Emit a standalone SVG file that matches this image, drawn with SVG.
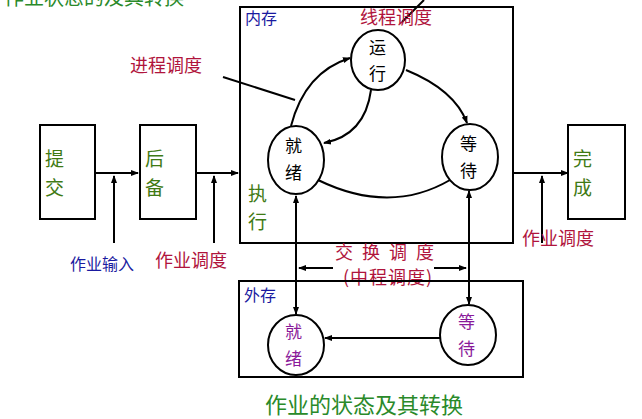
<svg xmlns="http://www.w3.org/2000/svg" width="642" height="419" viewBox="0 0 642 419">
<style>
text{font-family:"Noto Sans CJK SC","Liberation Sans",sans-serif}
.box{fill:none;stroke:#000;stroke-width:2}
.el{fill:#fff;stroke:#000;stroke-width:2}
.ln{fill:none;stroke:#000;stroke-width:2}
.g{fill:#3f7a14;font-size:19px}
.r{fill:#b0143c;font-size:18px}
.b{fill:#1a1aa0;font-size:16px}
.k{fill:#000;font-size:17px}
.p{fill:#8a1a9a;font-size:17px}
</style>
<defs><marker id="a" markerWidth="8" markerHeight="8" refX="7" refY="4" orient="auto" markerUnits="userSpaceOnUse"><path d="M0,1 L8,4 L0,7 Z" fill="#000"/></marker></defs>
<rect width="642" height="419" fill="#fff"/>
<text x="4" y="5" fill="#2a8a2a" font-size="20">作业状态的及其转换</text>
<g id="connectors">
<line class="ln" x1="95" y1="173" x2="138" y2="173" marker-end="url(#a)"/>
<line class="ln" x1="196" y1="173" x2="238" y2="173" marker-end="url(#a)"/>
<line class="ln" x1="513" y1="173" x2="568" y2="173" marker-end="url(#a)"/>
<line class="ln" x1="114" y1="243" x2="114" y2="176" marker-end="url(#a)" stroke-width="1.5"/>
<line class="ln" x1="214" y1="243" x2="214" y2="176" marker-end="url(#a)" stroke-width="1.5"/>
<line class="ln" x1="542" y1="243" x2="542" y2="176" marker-end="url(#a)" stroke-width="1.5"/>
<path class="ln" d="M291,126 Q305,72 350,58" marker-end="url(#a)"/>
<path class="ln" d="M371,90 Q365,135 324,143" marker-end="url(#a)"/>
<path class="ln" d="M406,70 Q455,90 467,123" marker-end="url(#a)"/>
<path class="ln" d="M450,180 Q390,215 318,180"/>
<line class="ln" x1="424" y1="0" x2="402" y2="22"/>
<line class="ln" x1="223" y1="77" x2="295" y2="100"/>
<line class="ln" x1="296" y1="250" x2="296" y2="196" marker-end="url(#a)"/>
<line class="ln" x1="296" y1="250" x2="296" y2="314" marker-end="url(#a)"/>
<line class="ln" x1="469" y1="250" x2="469" y2="191" marker-end="url(#a)"/>
<line class="ln" x1="469" y1="250" x2="469" y2="304" marker-end="url(#a)"/>
<line class="ln" x1="333" y1="268" x2="299" y2="268" marker-end="url(#a)"/>
<line class="ln" x1="434" y1="268" x2="466" y2="268" marker-end="url(#a)"/>
<line class="ln" x1="440" y1="338" x2="325" y2="338" marker-end="url(#a)"/>
</g>
<g id="submit"><rect class="box" x="40" y="125" width="55" height="94"/><text class="g" x="45" y="166">提</text><text class="g" x="45" y="195">交</text></g>
<g id="backup"><rect class="box" x="140" y="125" width="56" height="94"/><text class="g" x="145" y="166">后</text><text class="g" x="145" y="195">备</text></g>
<g id="done"><rect class="box" x="568" y="125" width="57" height="94"/><text class="g" x="573" y="166">完</text><text class="g" x="573" y="195">成</text></g>
<g id="memory"><rect class="box" x="240" y="7" width="273" height="236"/><text class="b" x="245" y="24">内存</text><text class="r" x="360" y="24">线程调度</text><text class="g" x="248" y="201">执</text><text class="g" x="248" y="229">行</text></g>
<g id="running"><ellipse class="el" cx="378" cy="60" rx="27" ry="30"/><text class="k" x="369" y="54">运</text><text class="k" x="369" y="80">行</text></g>
<g id="ready"><ellipse class="el" cx="296" cy="160" rx="28" ry="34"/><text class="k" x="285" y="152">就</text><text class="k" x="285" y="179">绪</text></g>
<g id="wait"><ellipse class="el" cx="470" cy="157" rx="28" ry="33"/><text class="k" x="460" y="150">等</text><text class="k" x="460" y="177">待</text></g>
<g id="labels">
<text class="r" x="130" y="72">进程调度</text>
<text class="b" x="70" y="270" font-size="14">作业输入</text>
<text class="r" x="155" y="267">作业调度</text>
<text class="r" x="522" y="245">作业调度</text>
<text class="r" x="335" y="259" letter-spacing="9">交换调度</text>
<text class="r" x="343" y="284" letter-spacing="1">(中程调度)</text>
</g>
<g id="external"><rect class="box" x="239" y="281" width="284" height="96"/><text class="b" x="244" y="301" font-size="17">外存</text></g>
<g id="ext-ready"><ellipse class="el" cx="296" cy="345" rx="28" ry="30"/><text class="p" x="285" y="338">就</text><text class="p" x="285" y="365">绪</text></g>
<g id="ext-wait"><ellipse class="el" cx="468" cy="335" rx="28" ry="30"/><text class="p" x="458" y="328">等</text><text class="p" x="458" y="355">待</text></g>
<text x="265" y="413" fill="#2a8a2a" font-size="22">作业的状态及其转换</text>
</svg>
